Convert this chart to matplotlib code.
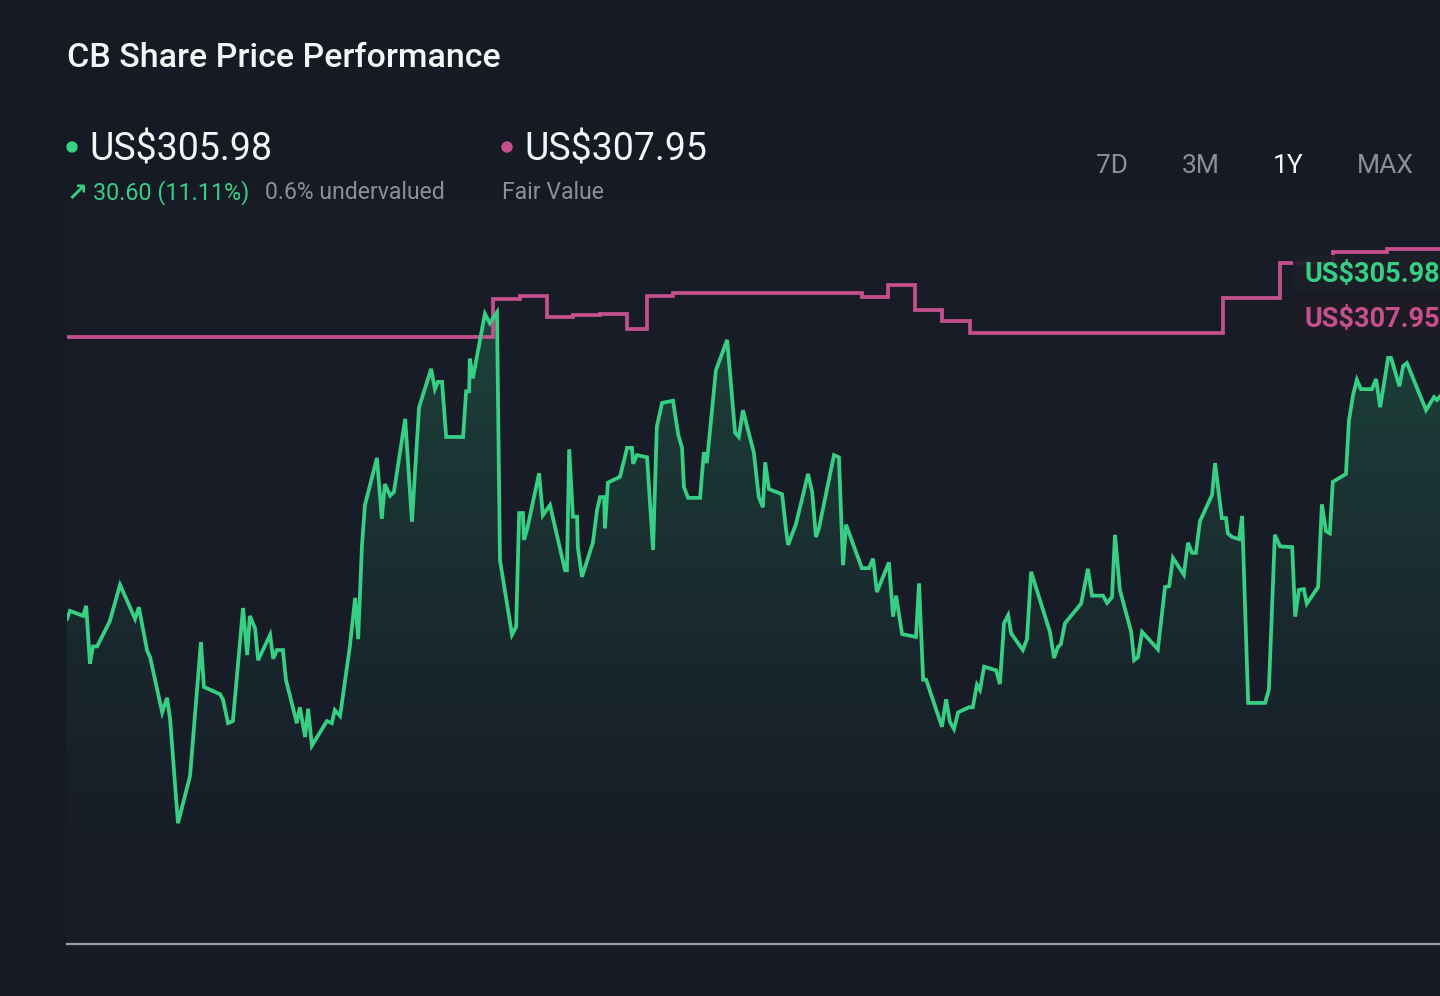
"""CB share price vs fair value, one-year view."""

import matplotlib

matplotlib.use("Agg")
import matplotlib.pyplot as plt
import numpy as np
from matplotlib.patches import Ellipse, FancyBboxPatch

plt.rcParams["font.family"] = ["Roboto", "DejaVu Sans"]

# daily close, days since start of the 1Y window
days = [
    0, 0.8, 4.3, 5.1, 6.1, 6.9, 8.0, 11.4, 14.1, 18.1, 19.1, 21.3, 22.1, 25.3,
    26.6, 27.4, 29.5, 32.7, 35.6, 36.4, 40.7, 41.5, 42.8, 44.1, 46.8, 47.9,
    48.6, 50.0, 50.8, 54.0, 54.8, 55.8, 57.4, 58.2, 61.1, 61.9, 63.3, 64.1,
    65.1, 69.1, 70.4, 71.2, 72.6, 75.2, 76.6, 77.4, 78.4, 79.2, 82.4, 83.7,
    84.5, 85.9, 86.9, 89.9, 91.7, 93.6, 96.8, 97.8, 98.6, 99.7, 100.8, 105.3,
    106.1, 106.9, 107.1, 107.9, 111.1, 112.4, 114.3, 115.1, 118.3, 119.4,
    120.2, 121.2, 121.5, 122.3, 125.5, 126.5, 128.4, 132.4, 132.9, 133.5,
    134.5, 135.6, 135.8, 136.9, 139.8, 140.9, 141.7, 142.8, 143.0, 143.8,
    147.0, 148.9, 150.2, 150.5, 151.5, 154.2, 155.8, 156.8, 158.2, 161.1,
    162.5, 163.5, 164.0, 165.1, 168.3, 169.3, 170.1, 172.5, 175.5, 177.6,
    178.6, 179.7, 182.6, 183.9, 185.0, 185.6, 186.6, 190.1, 191.1, 191.7,
    193.8, 197.0, 198.1, 199.1, 199.9, 203.9, 205.2, 206.3, 207.1, 211.3,
    213.2, 214.3, 215.3, 218.5, 219.6, 220.4, 222.0, 225.7, 226.5, 227.6,
    228.4, 232.6, 233.7, 234.7, 235.8, 236.9, 239.8, 240.8, 241.9, 242.7,
    243.8, 247.0, 248.0, 249.1, 250.2, 251.0, 254.1, 255.2, 256.3, 261.3,
    262.4, 263.4, 264.2, 265.3, 269.6, 271.4, 272.5, 275.4, 276.5, 277.8,
    278.6, 279.9, 282.9, 283.7, 284.7, 285.8, 290.0, 291.9, 293.0, 294.0,
    296.9, 298.0, 299.1, 300.1, 301.2, 304.4, 305.2, 307.0, 308.1, 308.6,
    309.7, 311.6, 312.4, 314.0, 318.5, 319.5, 321.1, 322.5, 325.7, 326.5,
    327.5, 328.8, 329.6, 332.6, 333.6, 334.7, 335.7, 336.5, 340.0, 340.8,
    341.9, 342.9, 344.0, 346.9, 348.0, 349.1, 351.2, 352.0, 354.2, 355.2,
    356.2, 361.3, 363.4, 364.2, 365.0,
]
price = [
    275.3, 276.4, 275.7, 277.1, 269.1, 271.5, 271.5, 275.0, 280.0, 275.3,
    276.9, 270.9, 270.0, 262.4, 264.4, 261.5, 247.1, 253.6, 272.1, 265.9,
    264.9, 264.1, 260.9, 261.2, 276.8, 270.3, 275.7, 274.0, 269.6, 273.1,
    269.8, 271.0, 271.0, 266.9, 260.9, 263.1, 259.0, 262.9, 257.8, 261.2,
    260.9, 262.7, 261.9, 271.5, 278.2, 272.5, 285.3, 291.0, 297.5, 289.1,
    293.9, 292.3, 292.8, 302.9, 288.7, 304.5, 309.8, 307.0, 308.0, 308.0,
    300.4, 300.4, 306.7, 306.7, 311.2, 308.5, 317.4, 316.1, 317.6, 283.4,
    273.1, 274.2, 289.9, 289.9, 286.2, 287.6, 295.4, 289.6, 291.0, 282.0,
    282.0, 298.7, 289.4, 289.4, 285.2, 281.1, 285.8, 290.3, 292.1, 292.1,
    287.8, 294.1, 294.9, 298.9, 298.9, 296.7, 297.9, 297.6, 284.8, 301.8,
    305.1, 305.4, 300.7, 298.9, 293.5, 292.0, 292.0, 298.3, 296.8, 309.6,
    313.8, 301.0, 300.4, 304.1, 298.2, 292.1, 290.7, 296.9, 293.2, 292.5,
    287.8, 285.5, 288.4, 295.3, 292.8, 286.6, 287.8, 297.9, 297.6, 282.7,
    288.3, 282.3, 282.3, 283.6, 279.0, 283.1, 275.6, 278.5, 273.2, 272.8,
    280.2, 266.9, 266.9, 260.4, 264.2, 261.1, 260.1, 262.4, 263.1, 263.1,
    266.2, 265.5, 268.7, 268.2, 266.3, 274.7, 275.8, 273.3, 271.0, 272.5,
    281.8, 273.5, 269.9, 271.4, 271.8, 274.7, 277.4, 282.2, 278.5, 278.5,
    277.5, 278.3, 286.9, 279.3, 273.5, 269.6, 270.0, 273.5, 271.1, 279.7,
    279.8, 283.7, 281.4, 285.8, 284.4, 284.4, 288.8, 292.4, 296.8, 289.2,
    289.2, 287.1, 286.6, 286.3, 289.5, 263.7, 263.7, 265.5, 286.9, 285.3,
    285.2, 275.6, 279.3, 279.4, 277.4, 279.7, 291.1, 287.4, 287.1, 294.2,
    295.3, 302.7, 306.2, 308.3, 307.0, 307.0, 308.4, 304.5, 311.3, 311.3,
    307.4, 310.2, 310.6, 304.1, 305.9, 305.5, 305.98,
]

# analyst fair value estimate, changes on these days
fv_days = [0, 113.2, 120.4, 127.6, 134.5, 141.7, 148.9, 154.2, 161.1, 211.3,
           218.3, 225.4, 232.6, 240.0, 307.3, 322.5, 336.5, 350.9, 365.0]
fv_values = [314.2, 319.4, 319.9, 317.0, 317.2, 317.4, 315.3, 319.9, 320.3,
             319.7, 321.4, 317.9, 316.4, 314.7, 319.6, 324.4, 325.9, 326.3,
             326.3]

last_price_label = "US$305.98"
fair_value_label = "US$307.95"
change_label = "30.60 (11.11%)"
valuation_label = "0.6% undervalued"
periods = ["7D", "3M", "1Y", "MAX"]
active_period = "1Y"

W, H = 1440, 996
BG = "#151a24"
PLOT_BG = "#171c27"
GREEN = "#37cf84"
PINK = "#c5508e"
GREY = "#8a8f98"
WHITE = "#f4f5f7"


def fx(x):
    return x / W


def fy(y):
    return 1 - y / H


fig = plt.figure(figsize=(W / 100, H / 100), dpi=100, facecolor=BG)
ax = fig.add_axes([fx(67), fy(944), 1 - fx(67), (944 - 200) / H])
ax.set_facecolor(PLOT_BG)
ax.set_xlim(0, 365)
ax.set_ylim(230.43, 333.1)

# gradient fill under the price line
poly = ax.fill_between(days, price, 230.43, facecolor="none", edgecolor="none")
t = np.linspace(0, 1, 256) ** 1.3
grad = np.zeros((256, 1, 4))
grad[..., 0] = 0.21
grad[..., 1] = 0.81
grad[..., 2] = 0.52
grad[..., 3] = (0.22 * t)[:, None]
im = ax.imshow(grad, extent=[0, 365, 239.0, 318.5], origin="lower",
               aspect="auto", zorder=1)
im.set_clip_path(poly.get_paths()[0], transform=ax.transData)

ax.step(fv_days, fv_values, where="post", color=PINK, linewidth=2.7,
        zorder=2, solid_joinstyle="miter")
ax.plot(days, price, color=GREEN, linewidth=2.7, zorder=3,
        solid_joinstyle="miter")

ax.set_xticks([])
ax.set_yticks([])
for side in ["top", "right", "left"]:
    ax.spines[side].set_visible(False)
ax.spines["bottom"].set_color("#9aa0a8")
ax.spines["bottom"].set_linewidth(1.6)

# header
fig.text(fx(67), fy(67), "CB Share Price Performance", color=WHITE,
         fontsize=24.5, fontweight=500, va="baseline")

fig.patches.append(Ellipse((fx(72), fy(147)), 10 / W, 10 / H,
                           transform=fig.transFigure, color=GREEN))
fig.patches.append(Ellipse((fx(507), fy(147)), 10 / W, 10 / H,
                           transform=fig.transFigure, color=PINK))
fig.text(fx(89), fy(161), last_price_label, color=WHITE, fontsize=27,
         va="baseline")
fig.text(fx(524), fy(161), fair_value_label, color=WHITE, fontsize=27,
         va="baseline")
fig.text(fx(67), fy(201), "\u2197", color=GREEN, fontsize=18,
         fontweight="bold", family="DejaVu Sans", va="baseline")
fig.text(fx(93), fy(199), change_label, color=GREEN, fontsize=16.8,
         va="baseline")
fig.text(fx(265), fy(199), valuation_label, color=GREY, fontsize=16.6,
         va="baseline")
fig.text(fx(502), fy(199), "Fair Value", color=GREY, fontsize=16.6,
         va="baseline")

period_x = [1096, 1182, 1273, 1357]
for label, x in zip(periods, period_x):
    fig.text(fx(x), fy(173), label, fontsize=19, va="baseline",
             color=WHITE if label == active_period else GREY)

# end-of-line value tags
for top, bottom, text, color, face in [
    (255, 291, last_price_label, GREEN, "#1e2029"),
    (297, 338, fair_value_label, PINK, "#1f1b24"),
]:
    box = FancyBboxPatch((fx(1293), fy(bottom)), fx(200), (bottom - top) / H,
                         boxstyle="round,pad=0,rounding_size=0.004",
                         transform=fig.transFigure, facecolor=face,
                         edgecolor="none", alpha=0.92, zorder=5)
    fig.patches.append(box)
    fig.text(fx(1304), fy((top + bottom) / 2 + 9), text, color=color,
             fontsize=19.5, fontweight="bold", va="baseline", zorder=6)

fig.savefig("out.png", dpi=100, facecolor=BG)
